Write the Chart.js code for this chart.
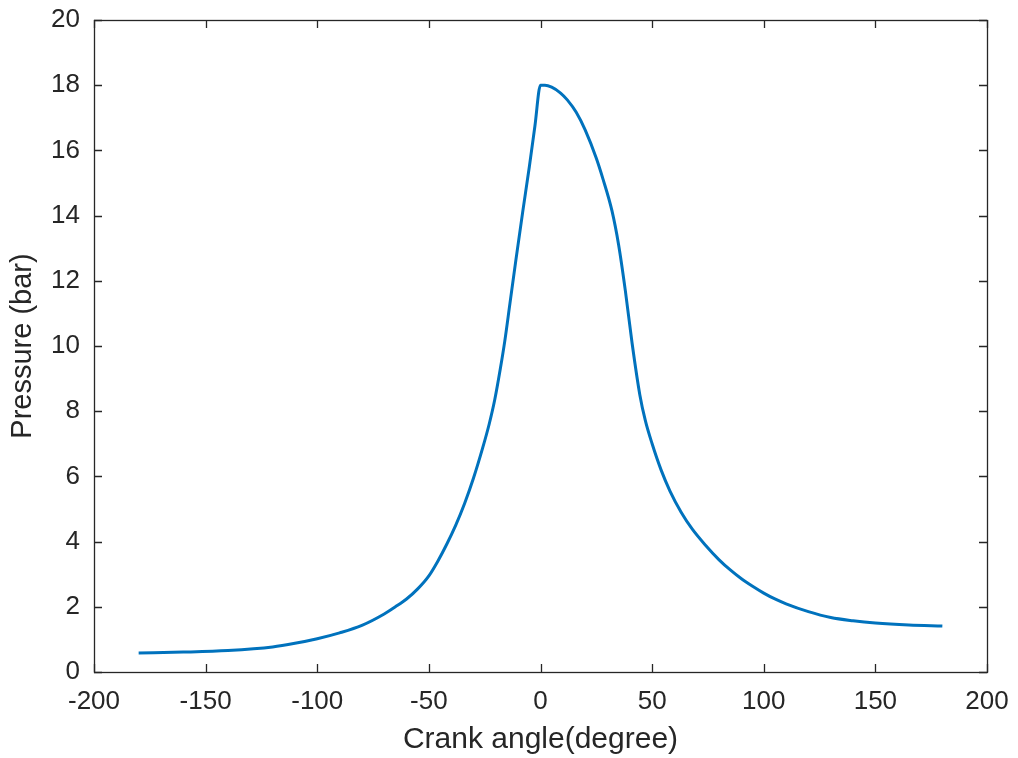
<!DOCTYPE html>
<html>
<head>
<meta charset="utf-8">
<script src="https://cdn.jsdelivr.net/npm/chart.js@4/dist/chart.umd.min.js"></script>
<style>
html,body{margin:0;padding:0;background:#fff;}
#wrap{position:relative;width:1018px;height:758px;}
</style>
</head>
<body>
<div id="wrap"><canvas id="c"></canvas></div>
<script>
const crankAngle = [-180,-160,-140,-120,-110,-100,-90,-80,-70,-65,-60,-55,-50,-46,-42,-38,-34,-30,-26,-23,-20.5,-18,-16,-13.7,-11,-8,-5,-2.5,0,2,5,9,12,16,20,25,28,32,35,38,41,44.5,47,50,54,58,63,68,74,80,85,90,95,100,105,110,120,130,140,150,165,180];
const pressure   = [0.58,0.61,0.66,0.77,0.88,1.02,1.2,1.43,1.78,2.0,2.24,2.55,2.95,3.4,3.92,4.5,5.17,5.95,6.85,7.6,8.35,9.3,10.15,11.3,12.65,14.1,15.5,16.75,18.0,18.0,17.94,17.76,17.55,17.17,16.63,15.76,15.12,14.15,13.1,11.7,10.1,8.5,7.7,7.0,6.2,5.55,4.9,4.38,3.88,3.44,3.13,2.86,2.63,2.42,2.24,2.09,1.85,1.67,1.57,1.5,1.44,1.41];
const xTicks = [-200,-150,-100,-50,0,50,100,150,200];
const yTicks = [0,2,4,6,8,10,12,14,16,18,20];
const xLabel = 'Crank angle(degree)';
const yLabel = 'Pressure (bar)';

const points = crankAngle.map((a,i)=>({x:a,y:pressure[i]}));
const axisColor = '#262626';
const FONT = '"Liberation Sans", Arial, sans-serif';

const boxTicks = {
  id:'boxTicks',
  afterDraw(chart){
    const {ctx, chartArea:a, scales} = chart;
    ctx.save();
    ctx.strokeStyle = axisColor;
    ctx.lineWidth = 1.3;
    const L = 8;
    ctx.beginPath();
    xTicks.forEach(v=>{
      const p = Math.round(scales.x.getPixelForValue(v))+0.5;
      ctx.moveTo(p,a.bottom); ctx.lineTo(p,a.bottom-L);
      ctx.moveTo(p,a.top); ctx.lineTo(p,a.top+L);
    });
    yTicks.forEach(v=>{
      const p = Math.round(scales.y.getPixelForValue(v))+0.5;
      ctx.moveTo(a.left,p); ctx.lineTo(a.left+L,p);
      ctx.moveTo(a.right,p); ctx.lineTo(a.right-L,p);
    });
    ctx.stroke();
    ctx.strokeRect(a.left+0.5, a.top+0.5, a.right-a.left, a.bottom-a.top);
    ctx.restore();
  }
};

new Chart(document.getElementById('c'), {
  type:'line',
  data:{datasets:[{
    data:points,
    borderColor:'#0072BD',
    borderWidth:3,
    pointRadius:0,
    fill:false,
    cubicInterpolationMode:'monotone'
  }]},
  options:{
    responsive:true,
    maintainAspectRatio:false,
    animation:false,
    events:[],
    layout:{padding:{top:20,right:31,left:0,bottom:0}},
    plugins:{legend:{display:false},tooltip:{enabled:false}},
    scales:{
      x:{
        type:'linear',
        min:-200,max:200,
        afterBuildTicks(s){ s.ticks = xTicks.map(v=>({value:v})); },
        afterFit(s){ s.height = 86; s.paddingLeft = 0; s.paddingRight = 0; },
        grid:{display:false,drawTicks:false},
        border:{display:false},
        ticks:{color:axisColor,font:{family:FONT,size:26},padding:14,maxRotation:0,autoSkip:false,
          callback:v=>String(v)},
        title:{display:true,text:xLabel,color:axisColor,font:{family:FONT,size:30},padding:{top:0,bottom:0}}
      },
      y:{
        type:'linear',
        min:0,max:20,
        afterBuildTicks(s){ s.ticks = yTicks.map(v=>({value:v})); },
        afterFit(s){ s.width = 94; s.paddingTop = 0; s.paddingBottom = 0; },
        grid:{display:false,drawTicks:false},
        border:{display:false},
        ticks:{color:axisColor,font:{family:FONT,size:26},padding:14,autoSkip:false,
          callback:v=>String(v)},
        title:{display:true,text:yLabel,color:axisColor,font:{family:FONT,size:29},padding:{top:6,bottom:0}}
      }
    }
  },
  plugins:[boxTicks]
});
</script>
</body>
</html>
